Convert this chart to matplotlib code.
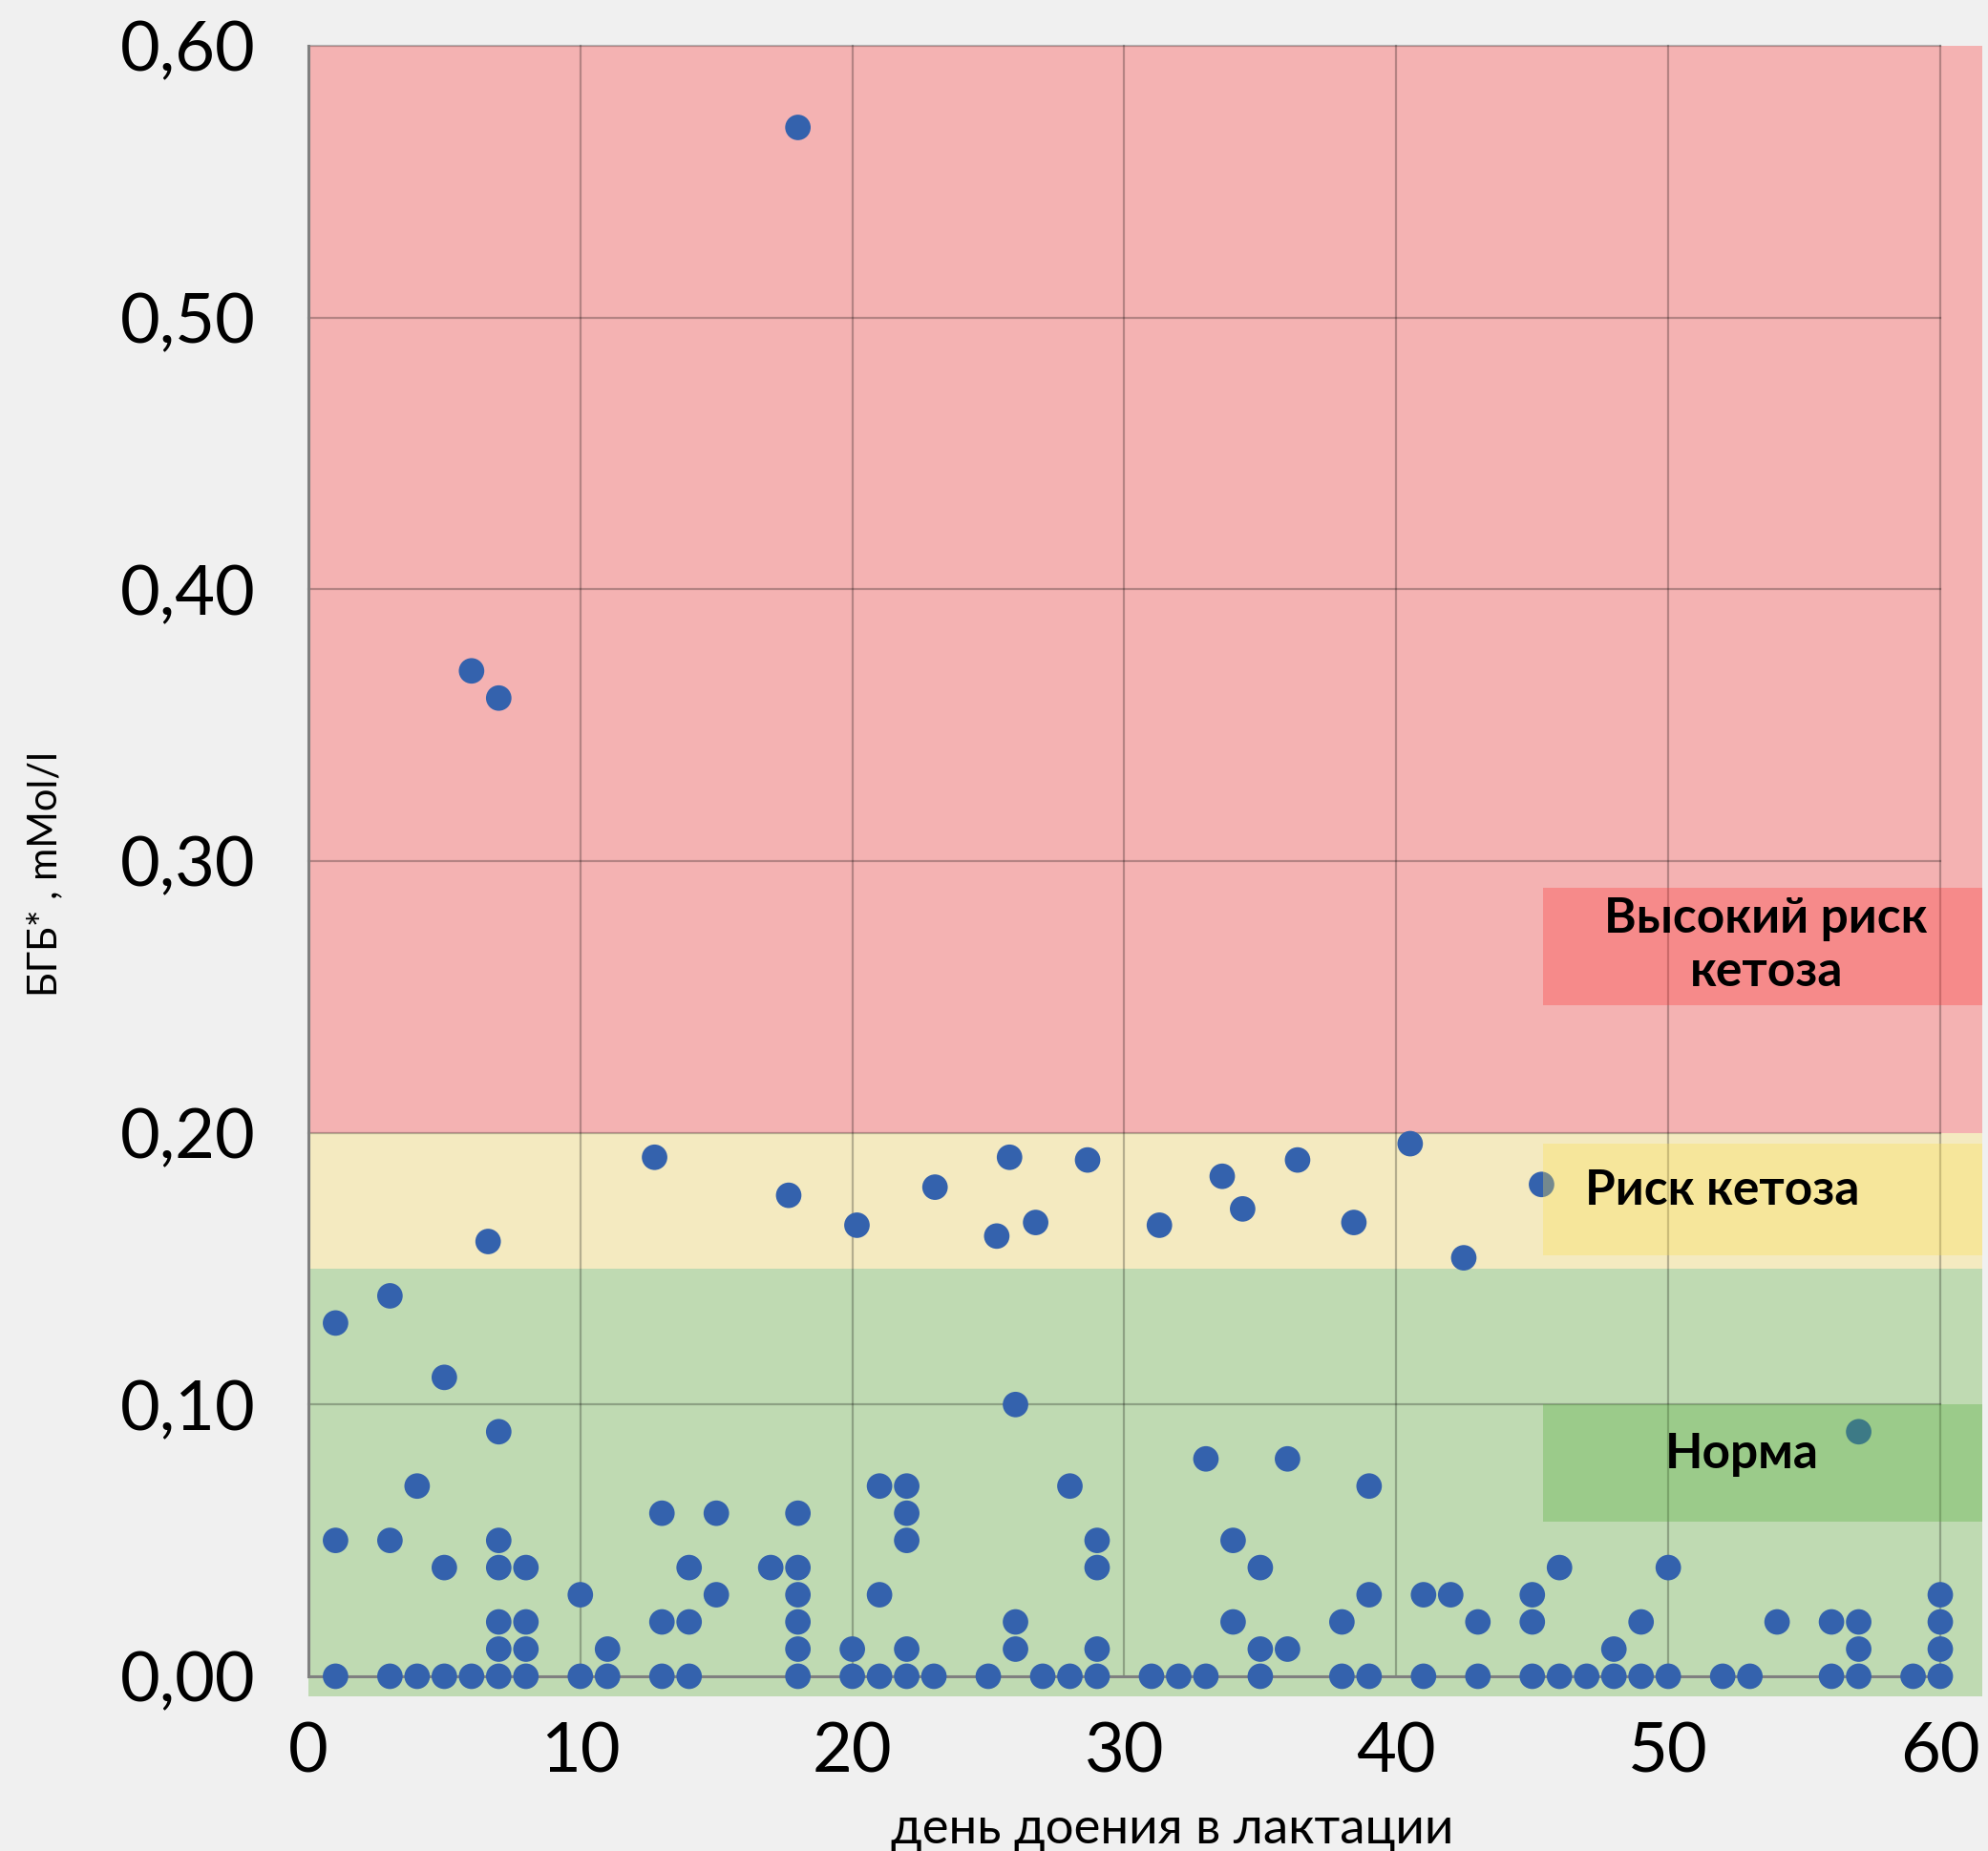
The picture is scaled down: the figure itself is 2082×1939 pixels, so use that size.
import matplotlib
matplotlib.use("Agg")
import matplotlib.pyplot as plt
from matplotlib.patches import Rectangle

# Data: day of lactation vs BHB (mMol/l)
red_days = [6, 7, 18]
red_bhb = [0.37, 0.36, 0.57]

yellow_days = [12.73, 17.66, 6.61, 20.17, 23.04, 25.78, 28.65, 25.31, 26.74,
               31.29, 33.6, 34.35, 36.37, 38.44, 40.51, 42.48, 45.34]
yellow_bhb = [0.191, 0.177, 0.160, 0.166, 0.180, 0.191, 0.190, 0.162, 0.167,
              0.166, 0.184, 0.172, 0.190, 0.167, 0.196, 0.154, 0.181]

green_days = [1, 1, 3, 3, 4, 5, 5, 7, 7, 7, 7, 7, 8, 8, 8, 10, 11, 13, 13,
              14, 14, 15, 15, 17, 18, 18, 18, 18, 18, 20, 21, 21, 22, 22, 22, 22,
              26, 26, 26, 28, 29, 29, 29, 33, 34, 34, 35, 35, 36, 36, 38, 39, 39,
              41, 42, 43, 45, 45, 46, 48, 49, 50, 54, 56, 57, 57, 57, 60, 60, 60]
green_bhb = [0.13, 0.05, 0.14, 0.05, 0.07, 0.11, 0.04, 0.09, 0.05, 0.04, 0.02, 0.01,
             0.04, 0.02, 0.01, 0.03, 0.01, 0.06, 0.02, 0.04, 0.02, 0.06, 0.03, 0.04,
             0.06, 0.04, 0.03, 0.02, 0.01, 0.01, 0.07, 0.03, 0.07, 0.06, 0.05, 0.01,
             0.10, 0.02, 0.01, 0.07, 0.05, 0.04, 0.01, 0.08, 0.05, 0.02, 0.04, 0.01,
             0.08, 0.01, 0.02, 0.07, 0.03, 0.03, 0.03, 0.02, 0.03, 0.02, 0.04, 0.01,
             0.02, 0.04, 0.02, 0.02, 0.09, 0.02, 0.01, 0.03, 0.02, 0.01]

zero_days = [1, 3, 4, 5, 6, 7, 8, 10, 11, 13, 14, 18, 20, 21, 22, 23, 25, 27, 28,
             29, 31, 32, 33, 35, 38, 39, 41, 43, 45, 46, 47, 48, 49, 50, 52, 53,
             56, 57, 59, 60]

x_ticks = [0, 10, 20, 30, 40, 50, 60]
y_ticks = [0.0, 0.1, 0.2, 0.3, 0.4, 0.5, 0.6]
y_tick_labels = ["0,00", "0,10", "0,20", "0,30", "0,40", "0,50", "0,60"]

# zones: (low, high, band colour, label, box low, box high, box colour)
zones = [
    (0.20, 0.60, "#f4b2b2", "Высокий риск\nкетоза", 0.247, 0.290, (0.99, 0.22, 0.22)),
    (0.15, 0.20, "#f4eac0", "Риск кетоза", 0.155, 0.196, (0.99, 0.87, 0.30)),
    (-0.0075, 0.15, "#bfdab2", "Норма", 0.057, 0.100, (0.32, 0.68, 0.21)),
]
label_pos = [(53.6, 0.269), (52.0, 0.1787), (52.7, 0.0817)]

BG = "#f0f0f0"
DOT = "#3462ad"
FONT = ["Lato", "DejaVu Sans"]

fig = plt.figure(figsize=(20.82, 19.39), dpi=100, facecolor=BG)
ax = fig.add_axes([0.1551, 0.0944, 0.8209, 0.8808])
ax.set_facecolor(BG)
ax.set_xlim(0, 60)
ax.set_ylim(0, 0.6)

band_right = 61.55
for low, high, col, _, _, _, _ in zones:
    ax.add_patch(Rectangle((0, low), band_right, high - low, facecolor=col,
                           edgecolor="none", zorder=0, clip_on=False))

# grid
for xv in x_ticks[1:]:
    ax.plot([xv, xv], [0, 0.6], color="black", alpha=0.26, lw=1.6, zorder=1, clip_on=False)
for yv in y_ticks[1:]:
    ax.plot([0, 60], [yv, yv], color="black", alpha=0.26, lw=1.6, zorder=1, clip_on=False)
ax.plot([0, 0], [0, 0.6], color="#808080", lw=2.2, zorder=1, clip_on=False)
ax.plot([0, 60], [0, 0], color="#808080", lw=2.2, zorder=1, clip_on=False)

all_days = red_days + yellow_days + green_days + zero_days
all_bhb = red_bhb + yellow_bhb + green_bhb + [0.0] * len(zero_days)
ax.scatter(all_days, all_bhb, s=370, color=DOT, edgecolors="none", zorder=3, clip_on=False)

# label boxes
for (low, high, col, text, blo, bhi, bcol), (tx, ty) in zip(zones, label_pos):
    ax.add_patch(Rectangle((45.4, blo), band_right - 45.4, bhi - blo, facecolor=bcol,
                           alpha=0.32, edgecolor="none", zorder=4, clip_on=False))
    ax.text(tx, ty, text, ha="center", va="center", fontsize=37, fontweight="bold",
            family=FONT, color="black", zorder=5, linespacing=1.25)

for s in ax.spines.values():
    s.set_visible(False)

ax.set_xticks(x_ticks)
ax.set_xticklabels([str(v) for v in x_ticks])
ax.set_yticks(y_ticks)
ax.set_yticklabels(y_tick_labels)
ax.tick_params(length=0, labelsize=52, colors="black")
ax.tick_params(axis="x", pad=34)
ax.tick_params(axis="y", pad=40)
for lab in ax.get_xticklabels() + ax.get_yticklabels():
    lab.set_family(FONT)

fig.text(1228 / 2082, 1 - 1916 / 1939, "день доения в лактации", ha="center", va="center",
         fontsize=38, family=FONT)
fig.text(47 / 2082, 1 - 916 / 1939, "БГБ* , mMol/l", ha="center", va="center",
         rotation=90, fontsize=30, family=FONT)

fig.savefig("out.png", dpi=100, facecolor=BG)
